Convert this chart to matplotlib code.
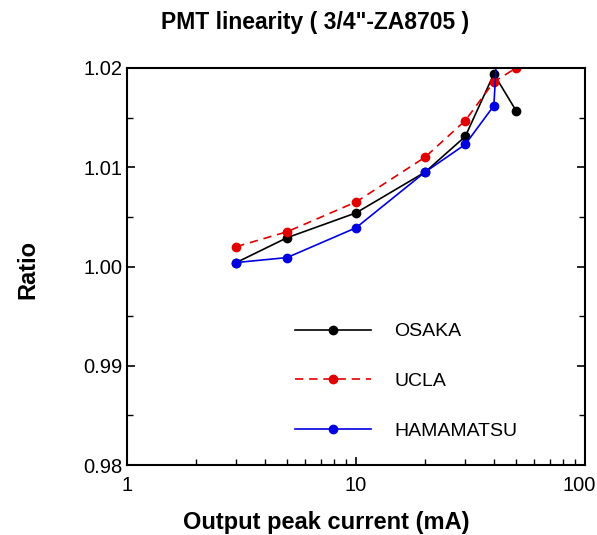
import matplotlib
matplotlib.use("Agg")
import matplotlib.pyplot as plt
import matplotlib.ticker as ticker
import matplotlib.transforms as mtransforms

plt.rcParams['font.family'] = ['Liberation Sans', 'DejaVu Sans']

# peak current (mA) and measured ratio for each group
current = [3, 5, 10, 20, 30, 40, 50]
osaka = [1.0004, 1.0029, 1.0054, 1.0095, 1.0131, 1.0194, 1.0157]
ucla = [1.0020, 1.0035, 1.0065, 1.0110, 1.0147, 1.0186, 1.0200]
hama_current = [3, 5, 10, 20, 30, 40, 42]
hamamatsu = [1.0004, 1.0009, 1.0039, 1.0095, 1.0123, 1.0162, 1.0250]
xtick_vals = [1, 10, 100]

fig = plt.figure(figsize=(5.97, 5.35), dpi=100)
ax = fig.add_axes([0.2127, 0.1308, 0.7672, 0.7421])

ax.plot(current, osaka, color='black', lw=1.2, marker='o', ms=6, label='OSAKA')
ax.plot(current, ucla, color='#e00000', lw=1.2, ls=(0, (5, 3.5)), marker='o', ms=6,
        label='UCLA')
ax.plot(hama_current, hamamatsu, color='#0000e0', lw=1.2, marker='o', ms=6,
        label='HAMAMATSU')

ax.set_xscale('log')
ax.set_xlim(1, 100)
ax.set_ylim(0.98, 1.02)
ax.yaxis.set_major_locator(ticker.MultipleLocator(0.01))
ax.yaxis.set_minor_locator(ticker.MultipleLocator(0.005))
ax.yaxis.set_major_formatter(ticker.FormatStrFormatter('%.2f'))
ax.xaxis.set_major_formatter(ticker.NullFormatter())
ax.xaxis.set_minor_formatter(ticker.NullFormatter())

ax.tick_params(axis='both', which='both', direction='in', labelsize=14.5)
ax.tick_params(axis='y', which='both', right=True, left=True)
ax.tick_params(axis='x', which='both', top=False)
ax.tick_params(which='major', length=6, width=1.2)
ax.tick_params(which='minor', length=4, width=1.0)
for s in ax.spines.values():
    s.set_linewidth(1.5)

# x labels drawn by hand so "100" can sit just inside the right edge
xlab_tr = mtransforms.blended_transform_factory(ax.transData, ax.transAxes)
for v in xtick_vals:
    shift = -4 if v == xtick_vals[-1] else 0
    tr = xlab_tr + mtransforms.ScaledTranslation(shift / 72, -8 / 72, fig.dpi_scale_trans)
    ax.text(v, 0, '%d' % v, transform=tr, ha='center', va='top', fontsize=14.5)

leg = ax.legend(loc='upper left', bbox_to_anchor=(0.349, 0.378), frameon=False,
                fontsize=14, handlelength=3.95, labelspacing=1.66,
                handletextpad=1.18, borderaxespad=0)

fig.text(315 / 597, 1 - 22 / 535, 'PMT linearity ( 3/4"-ZA8705 )', ha='center',
         va='center', fontsize=16.5, fontweight='bold')
fig.text(326 / 597, 1 - 522 / 535, 'Output peak current (mA)', ha='center',
         va='center', fontsize=17, fontweight='bold')
fig.text(28 / 597, 1 - 270 / 535, 'Ratio', ha='center', va='center', rotation=90,
         fontsize=17, fontweight='bold')

fig.savefig('out.png', dpi=100)
